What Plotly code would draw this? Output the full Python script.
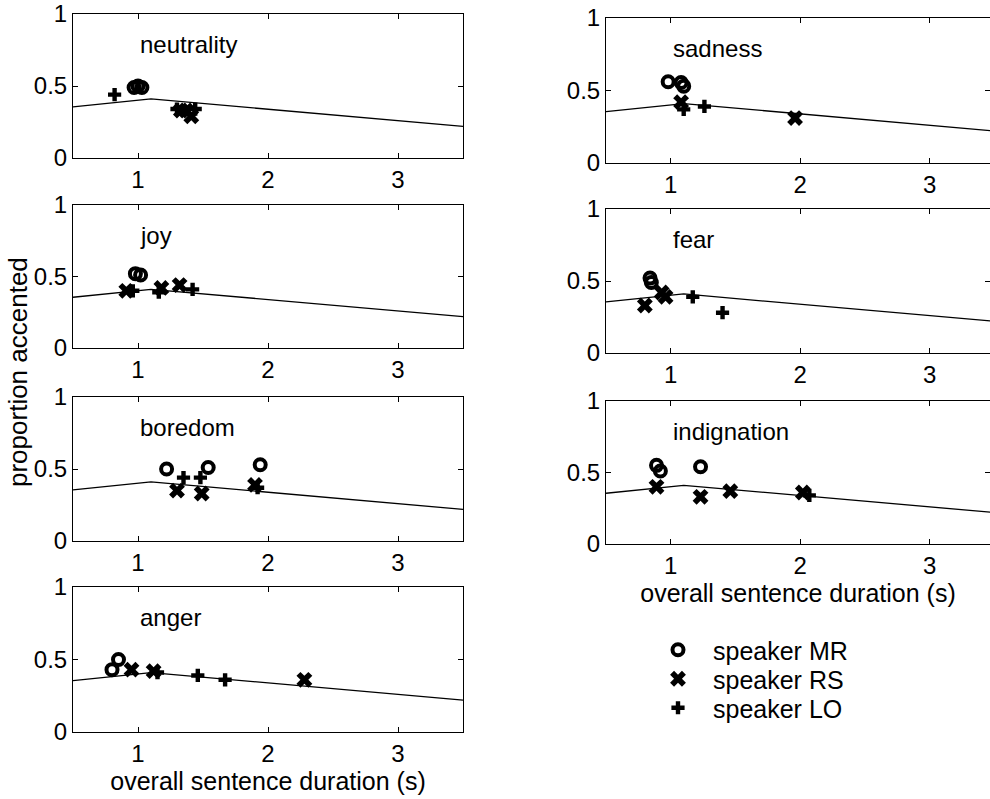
import plotly.graph_objects as go

# ---------------- data ----------------
emotions = ["neutrality", "joy", "boredom", "anger", "sadness", "fear", "indignation"]

# regression line (overall sentence duration vs proportion accented)
line_x = [0.5, 1.1, 3.5]
line_y = [0.355, 0.41, 0.22]

# speaker MR (circles), one list per emotion (same order as `emotions`)
mr_x = [[0.97, 1.00, 1.03], [0.98, 1.02], [1.22, 1.54, 1.94], [0.85, 0.80],
        [0.98, 1.08, 1.10], [0.84, 0.85], [0.89, 0.92, 1.23]]
mr_y = [[0.49, 0.50, 0.49], [0.52, 0.51], [0.50, 0.51, 0.53], [0.50, 0.43],
        [0.56, 0.555, 0.53], [0.52, 0.49], [0.55, 0.51, 0.54]]

# speaker RS (crosses x)
rs_x = [[1.33, 1.41, 1.37], [0.91, 1.18, 1.32], [1.30, 1.49, 1.90], [0.95, 1.12, 2.28],
        [1.08, 1.96], [0.80, 0.93, 0.96], [0.89, 1.23, 1.46, 2.02]]
rs_y = [[0.33, 0.29, 0.33], [0.40, 0.42, 0.44], [0.35, 0.33, 0.39], [0.43, 0.42, 0.36],
        [0.42, 0.31], [0.33, 0.42, 0.39], [0.40, 0.33, 0.37, 0.36]]

# speaker LO (plus)
lo_x = [[0.82, 1.30, 1.44], [0.96, 1.16, 1.42], [1.35, 1.48, 1.92], [1.15, 1.46, 1.67],
        [1.10, 1.26], [1.17, 1.40], [2.07]]
lo_y = [[0.44, 0.34, 0.34], [0.40, 0.39, 0.41], [0.44, 0.44, 0.37], [0.41, 0.39, 0.36],
        [0.37, 0.39], [0.39, 0.28], [0.34]]

speaker_names = ["speaker MR", "speaker RS", "speaker LO"]
x_ticks = [1, 2, 3]
y_ticks = [0, 0.5, 1]
y_tick_text = ["0", "0.5", "1"]
x_title = "overall sentence duration (s)"
y_title = "proportion accented"

# ---------------- layout geometry ----------------
W, H = 990, 799
FONT = "Liberation Sans, Arial, Helvetica, sans-serif"
FS_TICK = 24
FS_LABEL = 24
FS_XTITLE = 25
FS_YTITLE = 26
FS_LEG = 25

left_px = (73, 463)
right_px = (606, 990)
left_rows = [(14, 158), (205, 348), (397, 541), (587, 732)]
right_rows = [(18, 163), (209, 353), (401, 544)]
left_range = [0.5, 3.5]
right_range = [0.5, 0.5 + (990 - 606) / 129.5]

panels = []
for r in left_rows:
    panels.append((left_px, r, left_range))
for r in right_rows:
    panels.append((right_px, r, right_range))

fig = go.Figure()

symbols = ["circle-open", "x", "cross"]
sizes = [11, 14, 11]
legend_ids = ["legend", "legend2", "legend3"]
legend_rows_px = [650, 679, 708]
series_x = [mr_x, rs_x, lo_x]
series_y = [mr_y, rs_y, lo_y]

for i, emo in enumerate(emotions):
    n = i + 1
    xa = "x" if n == 1 else f"x{n}"
    ya = "y" if n == 1 else f"y{n}"
    fig.add_trace(go.Scatter(x=line_x, y=line_y, mode="lines",
                             line=dict(color="black", width=1.3),
                             xaxis=xa, yaxis=ya, showlegend=False, hoverinfo="skip"))
    for s in range(3):
        mk = dict(symbol=symbols[s], size=sizes[s], color="black")
        if s == 0:
            mk["line"] = dict(color="black", width=4)
        else:
            mk["line"] = dict(color="black", width=0)
        fig.add_trace(go.Scatter(x=series_x[s][i], y=series_y[s][i], mode="markers",
                                 marker=mk, name=speaker_names[s],
                                 legend=legend_ids[s],
                                 legendgroup=speaker_names[s], showlegend=(i == 0),
                                 xaxis=xa, yaxis=ya))

    (px0, px1), (top, bot), xr = panels[i]
    axis_common = dict(showline=True, linecolor="black", linewidth=1, mirror="ticks",
                       ticks="inside", ticklen=5, tickcolor="black", tickwidth=1,
                       showgrid=False, zeroline=False, automargin=False,
                       tickfont=dict(family=FONT, size=FS_TICK, color="black"))
    xkey = "xaxis" if n == 1 else f"xaxis{n}"
    ykey = "yaxis" if n == 1 else f"yaxis{n}"
    xd = dict(domain=[px0 / W, px1 / W], range=xr, tickvals=x_ticks,
              anchor=ya, **axis_common)
    if n in (4, 7):
        xd["title"] = dict(text=x_title, font=dict(family=FONT, size=FS_XTITLE, color="black"),
                           standoff=2)
    yd = dict(domain=[1 - bot / H, 1 - top / H], range=[0, 1], tickvals=y_ticks,
              ticktext=y_tick_text, anchor=xa, **axis_common)
    fig.update_layout({xkey: xd, ykey: yd})

    fig.add_annotation(text=emo, x=1.0, y=0.79, xref=xa, yref=ya,
                       xanchor="left", yanchor="middle", showarrow=False,
                       font=dict(family=FONT, size=FS_LABEL, color="black"))

fig.add_annotation(text=y_title, x=18 / W, y=1 - 372 / H, xref="paper", yref="paper",
                   textangle=-90, showarrow=False, xanchor="center", yanchor="middle",
                   font=dict(family=FONT, size=FS_YTITLE, color="black"))

leg_common = dict(xanchor="left", yanchor="middle", itemwidth=60,
                  font=dict(family=FONT, size=FS_LEG, color="black"),
                  bgcolor="rgba(0,0,0,0)", itemsizing="trace", borderwidth=0)
fig.update_layout(
    width=W, height=H,
    margin=dict(l=0, r=0, t=0, b=0, autoexpand=False),
    plot_bgcolor="white", paper_bgcolor="white",
    font=dict(family=FONT, size=FS_TICK, color="black"),
    legend=dict(x=643 / W, y=1 - legend_rows_px[0] / H, **leg_common),
    legend2=dict(x=643 / W, y=1 - legend_rows_px[1] / H, **leg_common),
    legend3=dict(x=643 / W, y=1 - legend_rows_px[2] / H, **leg_common),
)

fig.write_html("out.html")
